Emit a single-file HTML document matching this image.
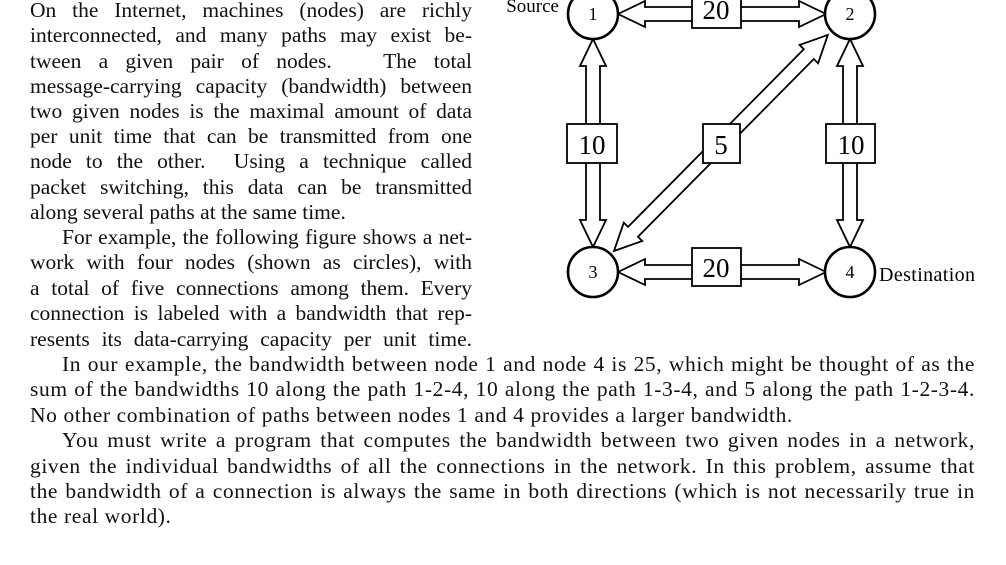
<!DOCTYPE html>
<html><head><meta charset="utf-8"><style>
html,body{margin:0;padding:0;background:#fff;}
body{width:1006px;height:565px;overflow:hidden;position:relative;font-family:"Liberation Serif",serif;font-size:21.5px;color:#111;}
.l{position:absolute;left:30px;height:25px;line-height:25px;white-space:nowrap;text-align:justify;text-align-last:justify;}
.c{width:442px;}
.f{width:945px;letter-spacing:0.6px;}
.n{text-align-last:left;}
.i{padding-left:32px;box-sizing:border-box;}
svg{position:absolute;left:0;top:0;}
</style></head><body>
<div class="l c" style="top:-2px">On the Internet, machines (nodes) are richly</div>
<div class="l c" style="top:23px">interconnected, and many paths may exist be-</div>
<div class="l c" style="top:49px">tween a given pair of nodes. &nbsp; The total</div>
<div class="l c" style="top:74px">message-carrying capacity (bandwidth) between</div>
<div class="l c" style="top:99px">two given nodes is the maximal amount of data</div>
<div class="l c" style="top:124px">per unit time that can be transmitted from one</div>
<div class="l c" style="top:149px">node to the other. &nbsp;Using a technique called</div>
<div class="l c" style="top:175px">packet switching, this data can be transmitted</div>
<div class="l c n" style="top:200px">along several paths at the same time.</div>
<div class="l c i" style="top:225px">For example, the following figure shows a net-</div>
<div class="l c" style="top:250px">work with four nodes (shown as circles), with</div>
<div class="l c" style="top:276px">a total of five connections among them. Every</div>
<div class="l c" style="top:301px">connection is labeled with a bandwidth that rep-</div>
<div class="l c" style="top:327px">resents its data-carrying capacity per unit time.</div>
<div class="l f i" style="top:352px">In our example, the bandwidth between node 1 and node 4 is 25, which might be thought of as the</div>
<div class="l f" style="top:377px">sum of the bandwidths 10 along the path 1-2-4, 10 along the path 1-3-4, and 5 along the path 1-2-3-4.</div>
<div class="l f n" style="top:403px">No other combination of paths between nodes 1 and 4 provides a larger bandwidth.</div>
<div class="l f i" style="top:428px">You must write a program that computes the bandwidth between two given nodes in a network,</div>
<div class="l f" style="top:454px">given the individual bandwidths of all the connections in the network. In this problem, assume that</div>
<div class="l f" style="top:479px">the bandwidth of a connection is always the same in both directions (which is not necessarily true in</div>
<div class="l f n" style="top:504px">the real world).</div>

<svg width="1006" height="565" viewBox="0 0 1006 565" font-family="Liberation Serif, serif">
<defs>
<polygon id="a" points="0,0 27,-13 27,-7 181,-7 181,-13 208,0 181,13 181,7 27,7 27,13" fill="#fff" stroke="#000" stroke-width="1.8"/>
<polygon id="d" points="0,0 27,-13 27,-7 277,-7 277,-13 304,0 277,13 277,7 27,7 27,13" fill="#fff" stroke="#000" stroke-width="1.8"/>
</defs>
<use href="#a" transform="translate(618,14)"/>
<use href="#a" transform="translate(618,272)"/>
<use href="#a" transform="translate(593,39) rotate(90)"/>
<use href="#a" transform="translate(850,39) rotate(90)"/>
<use href="#d" transform="translate(614,251) rotate(-45.3)"/>
<g fill="#fff" stroke="#000" stroke-width="2.6">
<circle cx="593" cy="14" r="25"/><circle cx="850" cy="14" r="25"/>
<circle cx="593" cy="272" r="25"/><circle cx="850" cy="272" r="25"/>
</g>
<g fill="#fff" stroke="#000" stroke-width="1.8">
<rect x="692" y="-10" width="49" height="38"/>
<rect x="692" y="248" width="49" height="38"/>
<rect x="567" y="124" width="50" height="39"/>
<rect x="826" y="124" width="49" height="39"/>
<rect x="703" y="124" width="37" height="39"/>
</g>
<g font-size="27" text-anchor="middle">
<text x="716" y="19">20</text><text x="716" y="277">20</text>
<text x="592" y="154">10</text><text x="851" y="154">10</text><text x="721" y="154">5</text>
</g>
<g font-size="18" text-anchor="middle">
<text x="593" y="20">1</text><text x="850" y="20">2</text>
<text x="593" y="278">3</text><text x="850" y="278">4</text>
</g>
<text x="559" y="12" font-size="19" text-anchor="end">Source</text>
<text x="879" y="281" font-size="20" textLength="96">Destination</text>
</svg>
</body></html>
